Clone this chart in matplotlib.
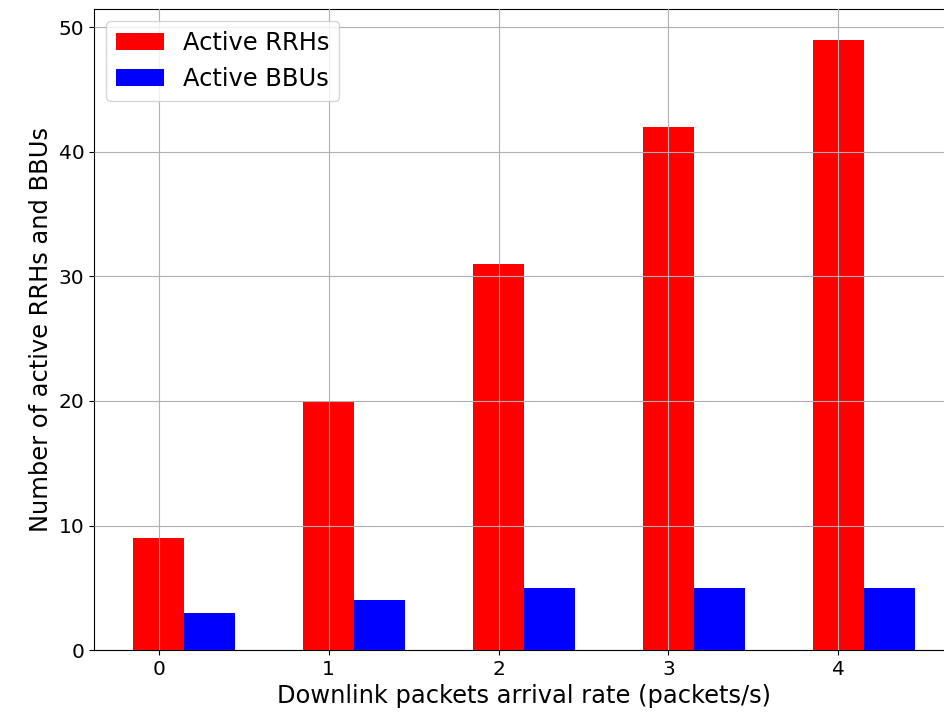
import numpy as np
import matplotlib
matplotlib.use("Agg")
import matplotlib.pyplot as plt

rates = [0, 1, 2, 3, 4]
active_rrhs = [9, 20, 31, 42, 49]
active_bbus = [3, 4, 5, 5, 5]

plt.rcParams['font.size'] = 17.4
plt.rcParams['xtick.labelsize'] = 14.5
plt.rcParams['ytick.labelsize'] = 14.5

fig, ax = plt.subplots(figsize=(9.45, 7.28), dpi=100)
x = np.array(rates)
w = 0.3
ax.bar(x, active_rrhs, w, color='red', label='Active RRHs')
ax.bar(x + w, active_bbus, w, color='blue', label='Active BBUs')

ax.set_xticks(x)
ax.set_xlabel('Downlink packets arrival rate (packets/s)')
ax.set_ylabel('Number of active RRHs and BBUs')
ax.grid(True)
ax.set_axisbelow(False)
ax.legend(loc='upper left')

# axes run a bit past the right edge, like the cropped original
fig.subplots_adjust(left=0.0995, right=1.0095, bottom=0.107, top=0.9876)
fig.savefig('out.png', dpi=100)
